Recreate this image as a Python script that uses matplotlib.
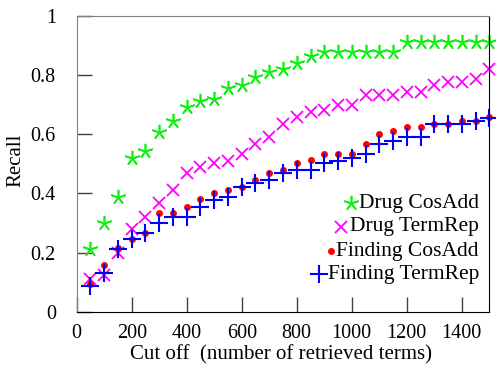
import numpy as np
import matplotlib
matplotlib.use("Agg")
import matplotlib.pyplot as plt

# cut off values (number of retrieved terms)
cutoff = np.arange(50, 1501, 50)

drug_cosadd = [0.211, 0.299, 0.386, 0.518, 0.544, 0.608, 0.644, 0.690, 0.712, 0.720,
               0.756, 0.765, 0.794, 0.810, 0.820, 0.841, 0.864, 0.878, 0.878, 0.878,
               0.878, 0.878, 0.877, 0.911, 0.911, 0.911, 0.911, 0.911, 0.911, 0.911]
drug_termrep = [0.109, 0.124, 0.200, 0.278, 0.321, 0.366, 0.411, 0.468, 0.488, 0.501,
                0.510, 0.533, 0.567, 0.589, 0.634, 0.657, 0.674, 0.681, 0.699, 0.699,
                0.732, 0.732, 0.732, 0.743, 0.743, 0.765, 0.776, 0.776, 0.787, 0.821]
finding_cosadd = [0.094, 0.157, 0.214, 0.245, 0.267, 0.334, 0.334, 0.355, 0.380, 0.402,
                  0.411, 0.422, 0.445, 0.468, 0.479, 0.501, 0.513, 0.533, 0.534, 0.534,
                  0.567, 0.600, 0.612, 0.623, 0.623, 0.634, 0.634, 0.645, 0.645, 0.657]
finding_termrep = [0.088, 0.132, 0.211, 0.245, 0.267, 0.299, 0.321, 0.321, 0.355, 0.377,
                   0.389, 0.420, 0.434, 0.445, 0.468, 0.479, 0.479, 0.501, 0.510, 0.518,
                   0.533, 0.567, 0.578, 0.589, 0.589, 0.634, 0.634, 0.634, 0.645, 0.653]

labels = ["Drug CosAdd", "Drug TermRep", "Finding CosAdd", "Finding TermRep"]

plt.rcParams['font.family'] = ['Liberation Serif', 'DejaVu Serif']

fig = plt.figure(figsize=(4.96, 3.65), dpi=100)
ax = fig.add_axes([0.1546, 0.146, 0.8319, 0.811])

styles = [
    dict(marker=(5, 2, 0), color='#11ee11', ms=11, mew=1.2),
    dict(marker='x', color='#ff00ff', ms=9, mew=1.3),
    dict(marker='o', color='#ff0000', ms=5, mew=0),
    dict(marker='+', color='#0000ff', ms=13, mew=1.5),
]
series = [drug_cosadd, drug_termrep, finding_cosadd, finding_termrep]

for ys, st in zip(series, styles):
    ax.plot(cutoff, ys, linestyle='none', clip_on=False, **st)

ax.set_xlim(0, 1500)
ax.set_ylim(0, 1)
ax.set_xticks(np.arange(0, 1401, 200))
ax.set_yticks([0, 0.2, 0.4, 0.6, 0.8, 1.0])
ax.set_yticklabels(["0", "0.2", "0.4", "0.6", "0.8", "1"])
ax.tick_params(direction='in', length=11, width=1, color='#404040', labelsize=14.5)
ax.tick_params(axis='y', pad=15)
ax.tick_params(axis='x', pad=9)

ax.spines['top'].set_color('#808080')
ax.spines['left'].set_color('#808080')
ax.spines['right'].set_color('black')
ax.spines['bottom'].set_color('black')

ax.set_xlabel("Cut off  (number of retrieved terms)", fontsize=15)
ax.set_ylabel("Recall", fontsize=15)
ax.xaxis.set_label_coords(0.496, -0.145)
ax.xaxis.label.set_verticalalignment('center')
ax.yaxis.set_label_coords(-0.147, 0.51)
ax.yaxis.label.set_verticalalignment('center')

# legend: right-aligned text with marker just in front
fig.canvas.draw()
renderer = fig.canvas.get_renderer()
leg_y = [0.367, 0.287, 0.205, 0.127]
gaps = [8, 9, 5.5, 9]
for lab, ly, st, gap in zip(labels, leg_y, styles, gaps):
    t = ax.text(0.975, ly, lab, transform=ax.transAxes, ha='right', va='center', fontsize=15.5)
    bb = t.get_window_extent(renderer)
    mx = ax.transAxes.inverted().transform((bb.x0 - gap, 0))[0]
    ax.plot([mx], [ly], transform=ax.transAxes, linestyle='none', clip_on=False, **st)

fig.savefig("out.png", dpi=100)
